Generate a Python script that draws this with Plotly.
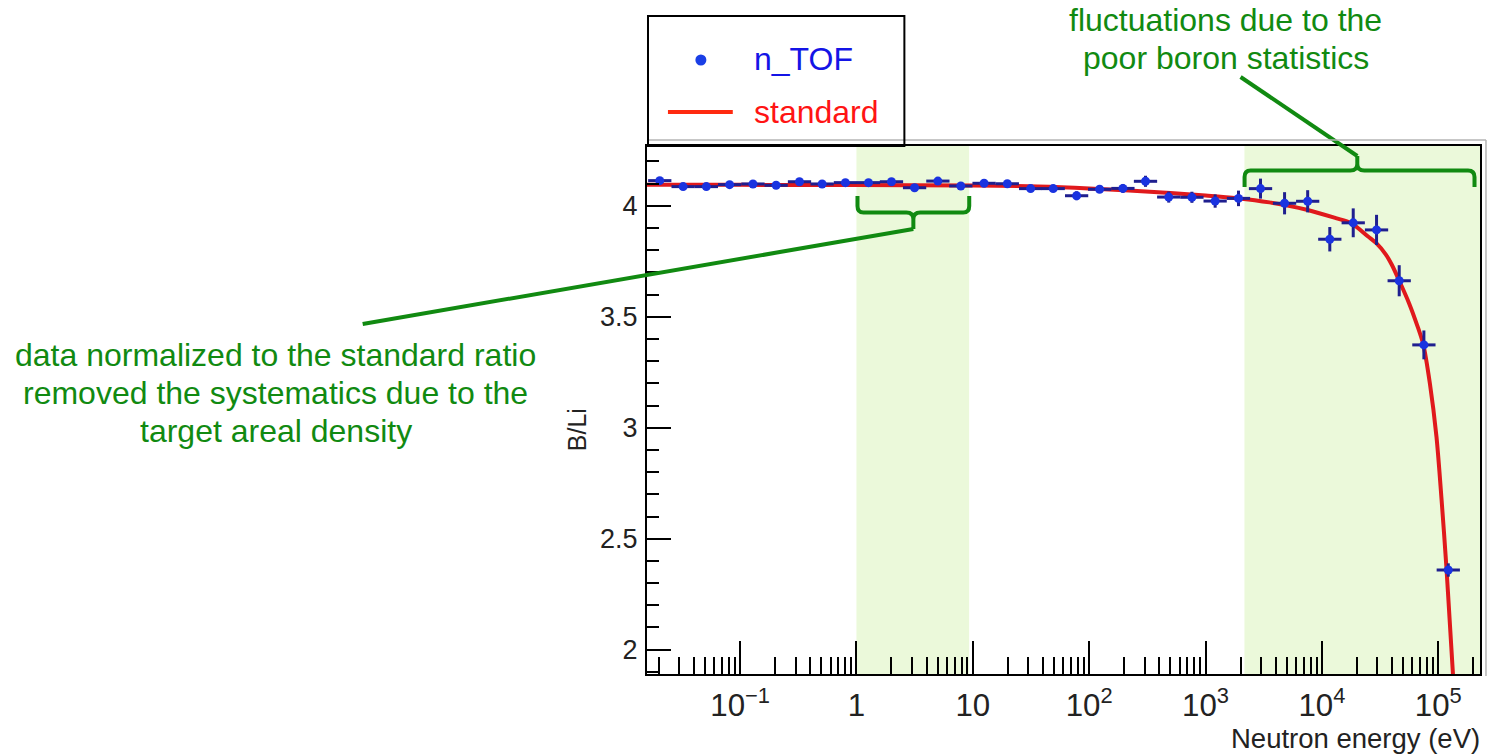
import plotly.graph_objects as go

# ---------------------------------------------------------------------------
# Data: B/Li ratio measured at n_TOF (0.2-decade energy bins) and the
# standard cross-section ratio.
# ---------------------------------------------------------------------------
energy_ev = [0.0204, 0.0324, 0.0513, 0.0813, 0.129, 0.204, 0.324, 0.507,
             0.804, 1.27, 2.00, 3.16, 5.01, 7.89, 12.5, 19.8, 31.4, 49.1,
             78.0, 123, 195, 305, 483, 764, 1210, 1920, 2970, 4780, 7550,
             11700, 18600, 29500, 46200, 75300, 122000]
ratio = [4.113, 4.086, 4.086, 4.095, 4.098, 4.092, 4.108, 4.098, 4.104,
         4.104, 4.108, 4.081, 4.111, 4.089, 4.101, 4.099, 4.077, 4.077,
         4.045, 4.074, 4.078, 4.110, 4.039, 4.038, 4.021, 4.033, 4.077,
         4.011, 4.020, 3.849, 3.923, 3.891, 3.662, 3.373, 2.359]
ratio_err = [0.008, 0.008, 0.008, 0.008, 0.008, 0.008, 0.008, 0.008, 0.008,
             0.008, 0.008, 0.008, 0.008, 0.008, 0.008, 0.008, 0.008, 0.010,
             0.020, 0.015, 0.020, 0.025, 0.025, 0.025, 0.030, 0.035, 0.045,
             0.050, 0.050, 0.055, 0.065, 0.068, 0.070, 0.065, 0.030]
BIN_HALF_DECADES = 0.1

std_energy_ev = [0.0158, 0.1, 1, 10, 36.3, 100, 501, 1000, 1862, 3548, 7413,
                 13183, 17783, 25119, 29512, 35481, 39811, 46238, 56234,
                 66069, 74302, 84723, 96605, 106905, 117490, 125310, 134276,
                 141000]
std_ratio = [4.094, 4.094, 4.093, 4.091, 4.087, 4.078, 4.057, 4.046, 4.034,
             4.015, 3.982, 3.944, 3.922, 3.860, 3.830, 3.780, 3.735, 3.662,
             3.560, 3.460, 3.376, 3.200, 2.959, 2.674, 2.374, 2.135, 1.878,
             1.690]

series_names = ["n_TOF", "standard"]

# highlighted energy windows (eV)
band_low = (1.0, 9.3)
band_high = (2160, 1e6)

note_left = ["data normalized to the standard ratio",
             "removed the systematics due to the",
             "target areal density"]
note_right = ["fluctuations due to the", "poor boron statistics"]

# ---------------------------------------------------------------------------
# Page geometry (pixels) and helpers for paper coordinates
# ---------------------------------------------------------------------------
W, H = 1494, 755
L, R, T, B = 647, 1482, 146, 674


def px(x):
    return (x - L) / (R - L)


def py(y):
    return (B - y) / (B - T)


def path(points_cmds):
    out = []
    for cmd in points_cmds:
        op, coords = cmd[0], cmd[1:]
        pts = " ".join(f"{px(coords[i]):.5f},{py(coords[i + 1]):.5f}"
                       for i in range(0, len(coords), 2))
        out.append(f"{op} {pts}")
    return " ".join(out)


GREEN = "#118a11"
BAND = "#ebf9da"
BLUE = "#1a33e0"
BAR = "#1f1f8f"
RED = "#e0191c"
SANS = "Liberation Sans, Arial, sans-serif"
AXIS_TXT = "#222"

err_plus = [e * (10 ** BIN_HALF_DECADES - 1) for e in energy_ev]
err_minus = [e * (1 - 10 ** -BIN_HALF_DECADES) for e in energy_ev]

fig = go.Figure()
fig.add_trace(go.Scatter(
    x=std_energy_ev, y=std_ratio, mode="lines", name=series_names[1],
    line=dict(color=RED, width=4, shape="spline", smoothing=0.8),
    showlegend=False,
))
fig.add_trace(go.Scatter(
    x=energy_ev, y=ratio, mode="markers", name=series_names[0],
    marker=dict(color=BLUE, size=9),
    error_y=dict(type="data", array=ratio_err, color=BAR, thickness=3, width=0),
    error_x=dict(type="data", symmetric=False, array=err_plus,
                 arrayminus=err_minus, color=BAR, thickness=3, width=0),
    showlegend=False,
))

shapes = []
# shaded energy windows
for lo, hi in (band_low, band_high):
    shapes.append(dict(type="rect", xref="x", yref="paper", x0=lo, x1=hi,
                       y0=0, y1=1, fillcolor=BAND, line=dict(width=0),
                       layer="below"))

# under-brace over the 1-10 eV window and its pointer
shapes.append(dict(type="path", xref="paper", yref="paper", layer="above",
                   line=dict(color=GREEN, width=4),
                   path=path([("M", 858, 196), ("L", 858, 206),
                              ("Q", 858, 212.5, 864, 212.5), ("L", 907, 212.5),
                              ("Q", 914, 212.5, 914, 219), ("L", 914, 229),
                              ("M", 914, 219), ("Q", 914, 212.5, 921, 212.5),
                              ("L", 964, 212.5), ("Q", 970, 212.5, 970, 206),
                              ("L", 970, 196)])))
shapes.append(dict(type="line", xref="paper", yref="paper", layer="above",
                   x0=px(914), y0=py(229), x1=px(362), y1=py(324),
                   line=dict(color=GREEN, width=4)))

# over-brace above the high-energy window and its pointer
shapes.append(dict(type="path", xref="paper", yref="paper", layer="above",
                   line=dict(color=GREEN, width=4),
                   path=path([("M", 1246, 187), ("L", 1246, 177),
                              ("Q", 1246, 170.5, 1252, 170.5), ("L", 1352, 170.5),
                              ("Q", 1359, 170.5, 1359, 164), ("L", 1359, 156),
                              ("M", 1359, 164), ("Q", 1359, 170.5, 1366, 170.5),
                              ("L", 1470, 170.5), ("Q", 1476.5, 170.5, 1476.5, 177),
                              ("L", 1476.5, 187)])))
shapes.append(dict(type="line", xref="paper", yref="paper", layer="above",
                   x0=px(1359), y0=py(156), x1=px(1242), y1=py(77),
                   line=dict(color=GREEN, width=4)))

# light outer frame lines
shapes.append(dict(type="line", xref="paper", yref="paper", x0=px(648),
                   x1=px(1488), y0=py(140), y1=py(140),
                   line=dict(color="#b4b4b4", width=1.5)))
shapes.append(dict(type="line", xref="paper", yref="paper", x0=px(1488),
                   x1=px(1488), y0=py(140), y1=py(676),
                   line=dict(color="#b4b4b4", width=1.5)))

# legend box
shapes.append(dict(type="rect", xref="paper", yref="paper", x0=px(648),
                   x1=px(905), y0=py(146), y1=py(16),
                   line=dict(color="black", width=2)))
shapes.append(dict(type="circle", xref="paper", yref="paper", x0=px(695.5),
                   x1=px(706.5), y0=py(65.5), y1=py(54.5),
                   fillcolor="#1a3fe6", line=dict(width=0)))
shapes.append(dict(type="line", xref="paper", yref="paper", x0=px(668),
                   x1=px(733), y0=py(112), y1=py(112),
                   line=dict(color="#ff2a10", width=4)))

annotations = [
    dict(text=series_names[0], x=px(752), y=py(59), xanchor="left",
         yanchor="middle", font=dict(family=SANS, size=32, color="#1414e6")),
    dict(text=series_names[1], x=px(752), y=py(112), xanchor="left",
         yanchor="middle", font=dict(family=SANS, size=32, color="#ff1414")),
    dict(text="Neutron energy (eV)", x=px(1484), y=py(738), xanchor="right",
         yanchor="middle", font=dict(family=SANS, size=27.5, color=AXIS_TXT)),
    dict(text="B/Li", x=px(577), y=py(430), xanchor="center", yanchor="middle",
         textangle=-90, font=dict(family=SANS, size=25, color=AXIS_TXT)),
]
for line_text, y_line in zip(note_left, (355, 393, 431)):
    annotations.append(dict(text=line_text, x=px(275), y=py(y_line),
                            xanchor="center", yanchor="middle",
                            font=dict(family=SANS, size=32, color=GREEN)))
for line_text, y_line in zip(note_right, (20, 58)):
    annotations.append(dict(text=line_text, x=px(1227), y=py(y_line),
                            xanchor="center", yanchor="middle",
                            font=dict(family=SANS, size=32, color=GREEN)))
for a in annotations:
    a.update(xref="paper", yref="paper", showarrow=False)

fig.update_layout(
    width=W, height=H, autosize=False,
    margin=dict(l=L, r=W - R, t=T, b=H - B, pad=0),
    paper_bgcolor="white", plot_bgcolor="white",
    shapes=shapes, annotations=annotations, showlegend=False,
)
fig.update_xaxes(
    type="log", range=[-1.8, 5.359], dtick=1, exponentformat="power",
    showgrid=False, zeroline=False, showline=True, linecolor="black",
    linewidth=2, mirror=True, ticks="inside", ticklen=33, tickwidth=2,
    tickcolor="black", ticklabelstandoff=4,
    tickfont=dict(family=SANS, size=25, color=AXIS_TXT),
    minor=dict(ticks="inside", ticklen=17, tickwidth=2, tickcolor="black",
               dtick="D1", showgrid=False),
)
fig.update_yaxes(
    range=[1.8905, 4.269], dtick=0.5, tick0=0, showgrid=False, zeroline=False,
    showline=True, linecolor="black", linewidth=2, mirror=True,
    ticks="inside", ticklen=24, tickwidth=2, tickcolor="black",
    ticklabelstandoff=2,
    tickfont=dict(family=SANS, size=27, color=AXIS_TXT),
    minor=dict(ticks="inside", ticklen=12, tickwidth=2, tickcolor="black",
               dtick=0.1, showgrid=False),
)

fig.write_html("out.html")
